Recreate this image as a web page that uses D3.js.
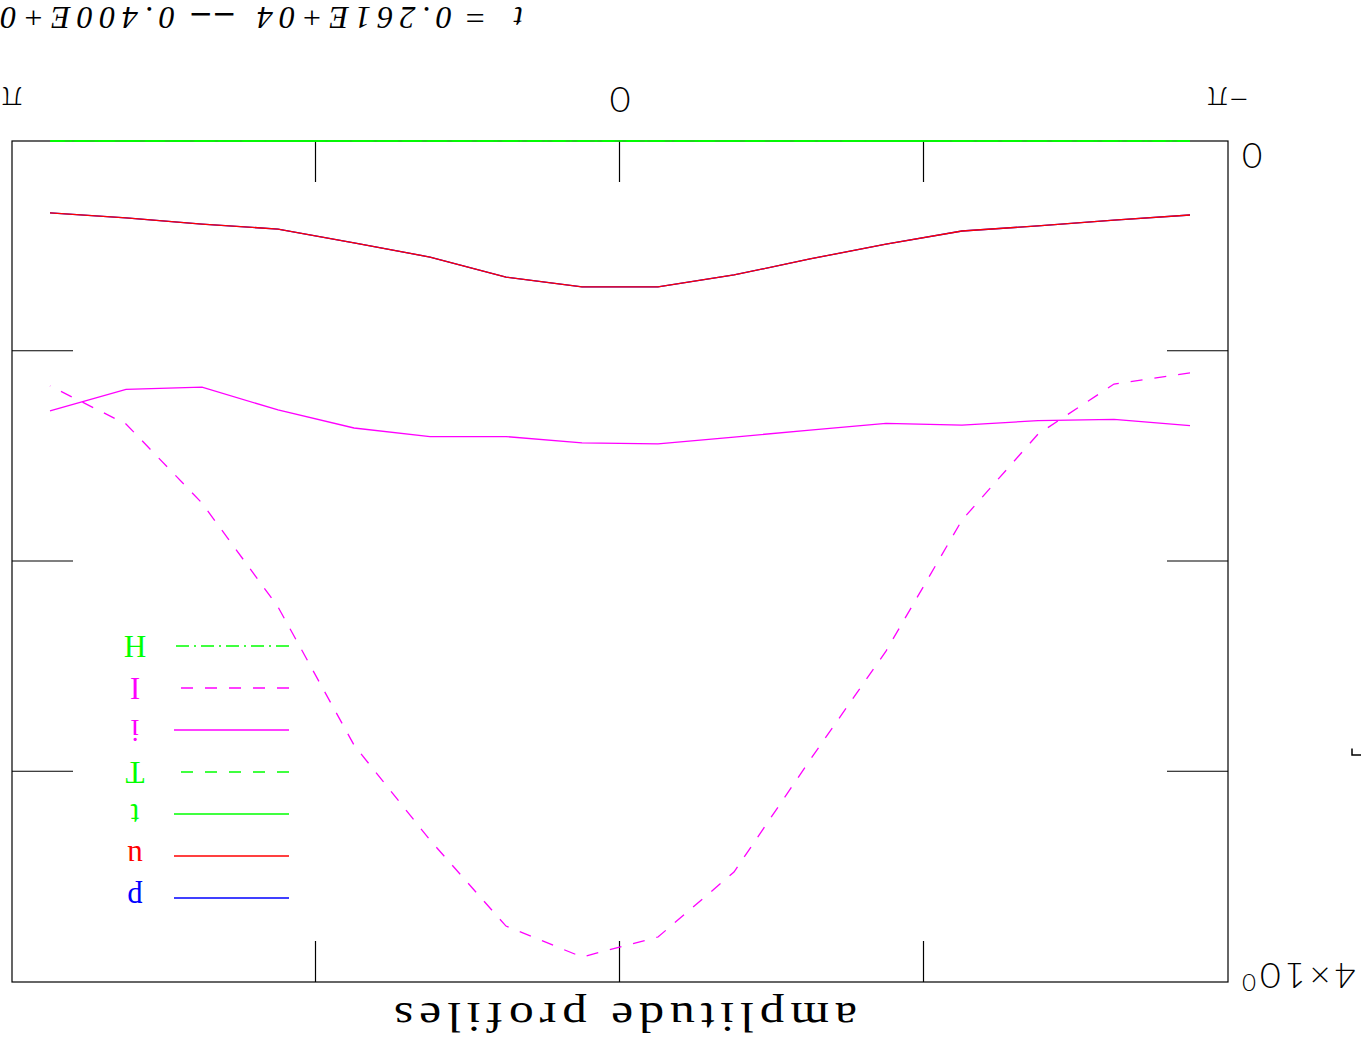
<!DOCTYPE html>
<html>
<head>
<meta charset="utf-8">
<script src="https://cdn.jsdelivr.net/npm/d3@7"></script>
<style>
  html, body { margin: 0; padding: 0; background: #fff; }
  svg { display: block; }
</style>
</head>
<body>
<svg id="chart" width="1361" height="1047"></svg>
<script>
// ---- data (phase in units of pi, amplitude values) ----
const phaseOverPi = [-0.9375, -0.8125, -0.6875, -0.5625, -0.4375, -0.3125, -0.1875, -0.0625,
                      0.0625,  0.1875,  0.3125,  0.4375,  0.5625,  0.6875,  0.8125,  0.9375];
const seriesP = [0.352, 0.376, 0.404, 0.428, 0.490, 0.561, 0.637, 0.694, 0.694, 0.647, 0.552, 0.485, 0.419, 0.395, 0.366, 0.342];
const seriesU = [0.352, 0.376, 0.404, 0.428, 0.490, 0.561, 0.637, 0.694, 0.694, 0.647, 0.552, 0.485, 0.419, 0.395, 0.366, 0.342];
const seriesT = [0, 0, 0, 0, 0, 0, 0, 0, 0, 0, 0, 0, 0, 0, 0, 0];
const seriesTT = [0, 0, 0, 0, 0, 0, 0, 0, 0, 0, 0, 0, 0, 0, 0, 0];
const seriesI = [1.354, 1.324, 1.330, 1.351, 1.343, 1.375, 1.408, 1.441, 1.436, 1.406, 1.406, 1.365, 1.279, 1.171, 1.181, 1.283];
const seriesII = [1.103, 1.156, 1.394, 1.803, 2.426, 2.944, 3.477, 3.786, 3.881, 3.734, 3.325, 2.873, 2.216, 1.722, 1.346, 1.165];
const seriesH = [0, 0, 0, 0, 0, 0, 0, 0, 0, 0, 0, 0, 0, 0, 0, 0];
const xTickLabels = ["\u2212\u03c0", "0", "\u03c0"];
const xLabelValues = [-Math.PI, 0, Math.PI];
const xTickValues = [-Math.PI / 2, 0, Math.PI / 2];
const yTickValues = [1, 2, 3];
const legendNames = ["p", "u", "t", "T", "i", "I", "H"];
const titleParts = ["t", "=", "0.261E+04", "--", "0.400E+02"];
const yLabel = "amplitude profiles";

// ---- layout ----
const W = 1361, H = 1047;
const L = 133, R = 1349, T = 65, B = 906;

const svg = d3.select("#chart");
// whole figure is drawn upside down (rotated 180 degrees)
const g = svg.append("g").attr("transform", `rotate(180, ${W / 2}, ${H / 2})`);

const x = d3.scaleLinear().domain([-Math.PI, Math.PI]).range([L, R]);
const y = d3.scaleLinear().domain([0, 4]).range([B, T]);

// frame
g.append("rect").attr("x", L).attr("y", T).attr("width", R - L).attr("height", B - T)
  .attr("fill", "none").attr("stroke", "#000").attr("stroke-width", 1.2);

// ticks via axes
function styleAxis(sel) {
  sel.select(".domain").remove();
  sel.selectAll(".tick line").attr("stroke", "#000").attr("stroke-width", 1.2);
  sel.selectAll(".tick text").remove();
}
g.append("g").attr("transform", `translate(0,${B})`)
  .call(d3.axisBottom(x).tickValues(xTickValues).tickSize(-41).tickFormat("")).call(styleAxis);
g.append("g").attr("transform", `translate(0,${T})`)
  .call(d3.axisTop(x).tickValues(xTickValues).tickSize(-41).tickFormat("")).call(styleAxis);
g.append("g").attr("transform", `translate(${L},0)`)
  .call(d3.axisLeft(y).tickValues(yTickValues).tickSize(-61).tickFormat("")).call(styleAxis);
g.append("g").attr("transform", `translate(${R},0)`)
  .call(d3.axisRight(y).tickValues(yTickValues).tickSize(-61).tickFormat("")).call(styleAxis);

// x tick labels
g.selectAll("text.xlab").data(xLabelValues).enter().append("text")
  .attr("class", "xlab")
  .attr("x", d => x(d)).attr("y", B + 54)
  .attr("text-anchor", "middle")
  .attr("font-family", "Lato, 'DejaVu Sans', sans-serif").attr("font-weight", 300)
  .attr("font-size", 36).attr("fill", "#000")
  .text((d, i) => xTickLabels[i]);

// y labels
g.append("text").attr("x", L - 14).attr("y", y(0) - 2).attr("text-anchor", "end")
  .attr("font-family", "Lato, 'DejaVu Sans', sans-serif").attr("font-weight", 300)
  .attr("font-size", 35).attr("fill", "#000").text("0");
const y4 = g.append("text").attr("x", L - 14).attr("y", y(4) + 19).attr("text-anchor", "end")
  .attr("font-family", "Lato, 'DejaVu Sans', sans-serif").attr("font-weight", 300)
  .attr("font-size", 36).attr("fill", "#000");
y4.append("tspan").attr("letter-spacing", 4).text("4\u00d710");
y4.append("tspan").attr("dy", -11).attr("font-size", 24).text("0");

// small artifact mark near left edge
g.append("path").attr("d", `M0,${y(2.92)}H9V${y(2.89)}`).attr("fill", "none")
  .attr("stroke", "#000").attr("stroke-width", 1.5);

// y-axis title along bottom (appears at top when rotated)
g.append("text").attr("x", (L + R) / 2 - 3 - 234).attr("y", 44)
  .attr("textLength", 469).attr("lengthAdjust", "spacingAndGlyphs")
  .attr("letter-spacing", 5)
  .attr("font-family", "'Liberation Serif', 'DejaVu Serif', serif")
  .attr("font-size", 42).attr("fill", "#000").text(yLabel);

// title pieces
const titleX = [838, 874, 909, 1125, 1186];
const titleLen = [null, 23, 195, 47, 197];
titleParts.forEach((t, i) => {
  const tx = g.append("text").attr("x", titleX[i]).attr("y", 1040)
    .attr("font-family", "'Liberation Serif', 'DejaVu Serif', serif")
    .attr("font-style", "italic").attr("font-size", 32).attr("fill", "#000").text(t);
  if (titleLen[i]) tx.attr("textLength", titleLen[i])
    .attr("lengthAdjust", t === "--" || t === "=" ? "spacingAndGlyphs" : "spacing");
});

// series
const series = [
  { name: "I", values: seriesII, color: "#ff00ff", dash: "12,12" },
  { name: "i", values: seriesI, color: "#ff00ff", dash: null },
  { name: "p", values: seriesP, color: "#0000ff", dash: null },
  { name: "u", values: seriesU, color: "#ff0000", dash: null },
  { name: "H", values: seriesH, color: "#00ff00", dash: "13,5,2,5" },
  { name: "T", values: seriesTT, color: "#00ff00", dash: "12,12" },
  { name: "t", values: seriesT, color: "#00ff00", dash: null },
];
const line = d3.line().x((d, i) => x(phaseOverPi[i] * Math.PI)).y(d => y(d));
series.forEach(s => {
  g.append("path").datum(s.values).attr("d", line)
    .attr("fill", "none").attr("stroke", s.color).attr("stroke-width", 1.3)
    .attr("stroke-dasharray", s.dash);
});

// legend
const legendY = d3.scaleLinear().domain([0, 6]).range([149, 401]);
const styleOf = {};
series.forEach(s => styleOf[s.name] = s);
legendNames.forEach((n, i) => {
  const s = styleOf[n];
  const ly = legendY(i);
  g.append("line").attr("x1", 1072).attr("x2", 1187).attr("y1", ly).attr("y2", ly)
    .attr("stroke", s.color).attr("stroke-width", 1.3).attr("stroke-dasharray", s.dash);
  g.append("text").attr("x", 1226).attr("y", ly + 10).attr("text-anchor", "middle")
    .attr("font-family", "'Liberation Serif', 'DejaVu Serif', serif")
    .attr("font-size", 31).attr("fill", s.color).text(n);
});
</script>
</body>
</html>
